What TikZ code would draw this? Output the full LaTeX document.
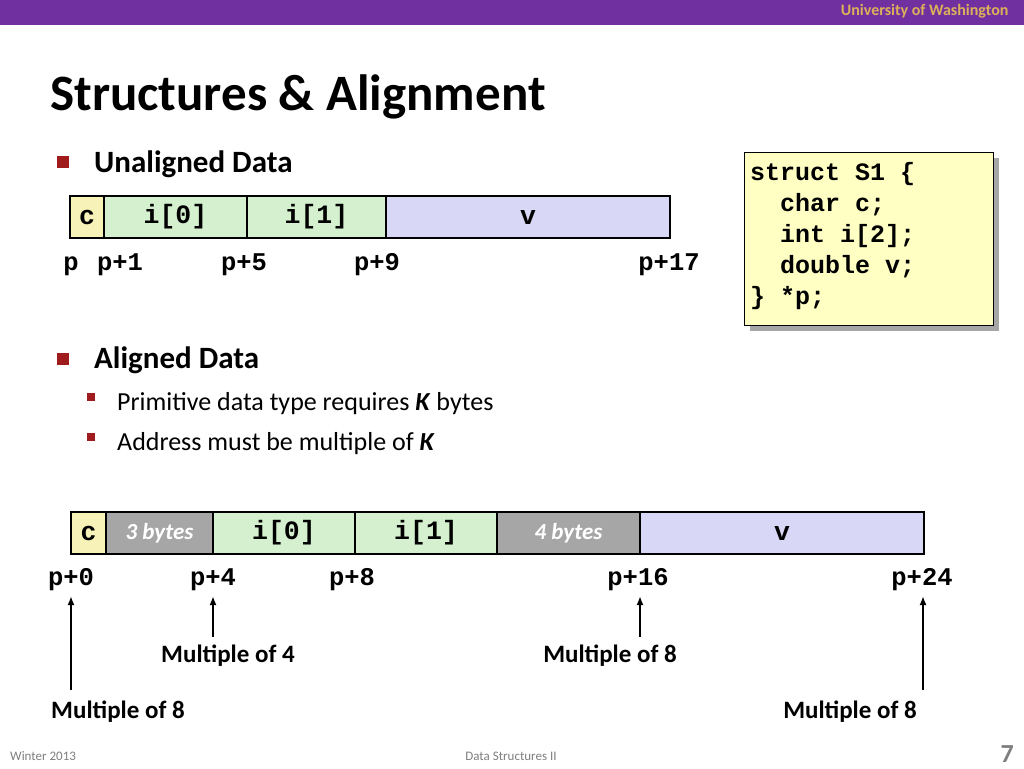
\documentclass[tikz,border=0pt]{standalone}
\usepackage{fontspec}
\setmainfont{Carlito}
\setmonofont{Liberation Mono}
\usepackage{tikz}
\usetikzlibrary{arrows.meta}

\definecolor{uwpurple}{HTML}{7030A0}
\definecolor{uwgold}{HTML}{DDB05A}
\definecolor{bulletred}{HTML}{A01C1C}
\definecolor{cyel}{HTML}{F7F3B8}
\definecolor{cgreen}{HTML}{D5F0CF}
\definecolor{cblue}{HTML}{D8D8F6}
\definecolor{cgray}{HTML}{A6A6A6}
\definecolor{codebg}{HTML}{FFFFC4}
\definecolor{footgray}{HTML}{7F7F7F}

\newcommand{\fs}[1]{\fontsize{#1}{#1}\selectfont}

\tikzset{
    cell/.style={draw, line width=2pt, minimum height=42, inner sep=0, font=\ttfamily\bfseries\fs{26.5}},
    pad/.style={cell, fill=cgray, text=white, font=\bfseries\itshape\fs{23}},
    addr/.style={font=\ttfamily\bfseries\fs{25.5}, anchor=base, inner sep=1},
    note/.style={font=\bfseries\fs{25}, anchor=base, inner sep=1},
    bigsq/.style={fill=bulletred, minimum size=12, inner sep=0},
    smallsq/.style={fill=bulletred, minimum size=8, inner sep=0},
    up/.style={-{Latex[length=9, width=7]}, line width=2pt}
}

\begin{document}
\begin{tikzpicture}[x=1pt, y=-1pt]
    \useasboundingbox (0, 0) rectangle (1024, 768);
    \fill[white] (0, 0) rectangle (1024, 768);

    % header and title
    \fill[uwpurple] (0, 0) rectangle (1024, 25);
    \node[anchor=base east, text=uwgold, font=\bfseries\fs{16}] (uw) at (1012, 16) {University of Washington};
    \node[anchor=base west, font=\bfseries\fs{51}, inner sep=0] (title) at (50, 110) {Structures \& Alignment};

    % bullets
    \node[bigsq] (b1) at (63, 162) {};
    \node[anchor=base west, font=\bfseries\fs{31}, inner sep=0] (unal) at (94, 172) {Unaligned Data};
    \node[bigsq] (b2) at (63, 359) {};
    \node[anchor=base west, font=\bfseries\fs{31}, inner sep=0] (alig) at (94, 368) {Aligned Data};
    \node[smallsq] (s1) at (91, 397) {};
    \node[anchor=base west, font=\fs{26}, inner sep=0] (prim) at (117, 410) {Primitive data type requires \textbf{\textit{K}} bytes};
    \node[smallsq] (s2) at (91, 437) {};
    \node[anchor=base west, font=\fs{26}, inner sep=0] (addrk) at (117, 450) {Address must be multiple of \textbf{\textit{K}}};

    % struct declaration
    \fill[gray!70] (750, 158) rectangle (999, 331);
    \node[draw, line width=1pt, fill=codebg, anchor=north west, minimum width=249, minimum height=173, inner sep=0] (code) at (744, 152) {};
    \node[anchor=base west, font=\ttfamily\bfseries\fs{25}, inner sep=0] at (750, 180) {struct S1 \{};
    \node[anchor=base west, font=\ttfamily\bfseries\fs{25}, inner sep=0] at (750, 211) {\ \ char c;};
    \node[anchor=base west, font=\ttfamily\bfseries\fs{25}, inner sep=0] at (750, 242) {\ \ int i[2];};
    \node[anchor=base west, font=\ttfamily\bfseries\fs{25}, inner sep=0] at (750, 273) {\ \ double v;};
    \node[anchor=base west, font=\ttfamily\bfseries\fs{25}, inner sep=0] at (750, 304) {\} *p;};

    % unaligned layout
    \node[cell, fill=cyel, minimum width=34] (uc) at (87, 217) {c};
    \node[cell, fill=cgreen, minimum width=143] (ui0) at (175.5, 217) {i[0]};
    \node[cell, fill=cgreen, minimum width=139] (ui1) at (316.5, 217) {i[1]};
    \node[cell, fill=cblue, minimum width=284] (uv) at (528, 217) {v};

    \node[addr] (u0) at (71, 270) {p};
    \node[addr] (u1) at (120, 270) {p+1};
    \node[addr] (u5) at (244, 270) {p+5};
    \node[addr] (u9) at (377, 270) {p+9};
    \node[addr] (u17) at (669, 270) {p+17};

    % aligned layout
    \node[cell, fill=cyel, minimum width=35] (ac) at (88.5, 533) {c};
    \node[pad, minimum width=107] (ap1) at (159.5, 533) {3 bytes};
    \node[cell, fill=cgreen, minimum width=142] (ai0) at (284, 533) {i[0]};
    \node[cell, fill=cgreen, minimum width=142] (ai1) at (426, 533) {i[1]};
    \node[pad, minimum width=143] (ap2) at (568.5, 533) {4 bytes};
    \node[cell, fill=cblue, minimum width=284] (av) at (782, 533) {v};

    \node[addr] (a0) at (71, 585) {p+0};
    \node[addr] (a4) at (213, 585) {p+4};
    \node[addr] (a8) at (352, 585) {p+8};
    \node[addr] (a16) at (638, 585) {p+16};
    \node[addr] (a24) at (922, 585) {p+24};

    % alignment notes
    \node[note] (m4) at (228, 662) {Multiple of 4};
    \node[note] (m8b) at (610, 662) {Multiple of 8};
    \node[note] (m8a) at (118, 718) {Multiple of 8};
    \node[note] (m8c) at (850, 718) {Multiple of 8};

    \coordinate (t0) at (71, 596);
    \coordinate (t4) at (213, 596);
    \coordinate (t16) at (640, 596);
    \coordinate (t24) at (923, 596);
    \draw[up] (71, 690) -- (t0);
    \draw[up] (213, 637) -- (t4);
    \draw[up] (640, 637) -- (t16);
    \draw[up] (923, 690) -- (t24);

    % footer
    \node[anchor=base west, text=footgray, font=\fs{13}, inner sep=0] (win) at (10, 760) {Winter 2013};
    \node[anchor=base, text=footgray, font=\fs{13}, inner sep=0] (ds) at (511, 760) {Data Structures II};
    \node[anchor=base east, text=footgray, font=\bfseries\fs{26}, inner sep=0] (pg) at (1014, 762) {7};
\end{tikzpicture}
\end{document}
